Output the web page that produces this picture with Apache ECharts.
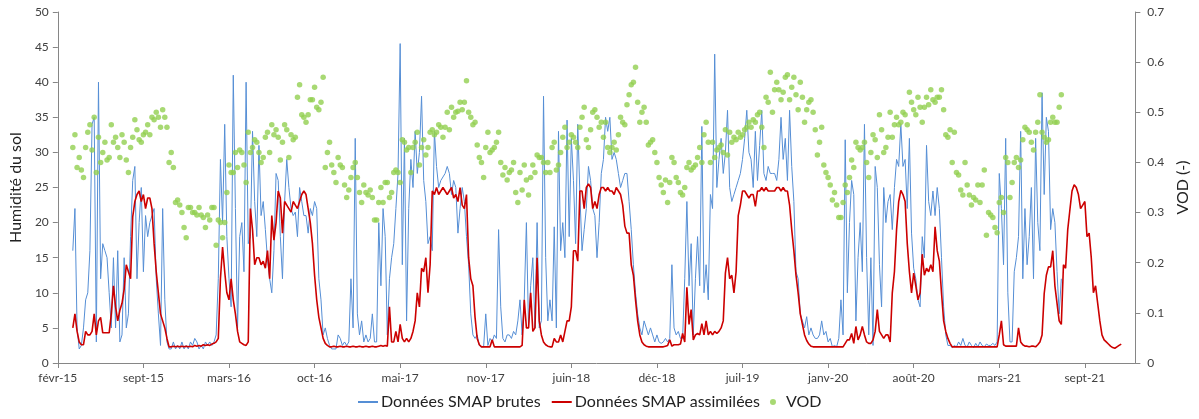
<!DOCTYPE html>
<html>
<head>
<meta charset="utf-8">
<script src="https://cdn.jsdelivr.net/npm/echarts@6/dist/echarts.min.js"></script>
<style>
html, body { margin: 0; padding: 0; background: #fff; }
#chart { width: 1199px; height: 419px; }
</style>
</head>
<body>
<div id="chart"></div>
<script>
// x = days since 22 Feb 2015 (axis origin); series sampled every 5 days from day 35
const firstDay = 35
const stepDays = 5
const tickStep = 200
const axisEnd = 2518

const xLabels = ['févr-15', 'sept-15', 'mars-16', 'oct-16', 'mai-17', 'nov-17', 'juin-18',
    'déc-18', 'juil-19', 'janv-20', 'août-20', 'mars-21', 'sept-21']

// Données SMAP brutes (humidité du sol)
const brutes = [
    16,22,5,2,2.5,5,9,10,16,34,
    35,3,40,12,17,16,15,10,5,15,
    5,16,3,4,15,5,7,18,26,28,
    12,20,25,13,21,18,20,21,22,12,
    7,2.5,22,9,3,2,2,3,2,2.5,
    2,3,2,2.5,2,3,2.5,3.5,3,2,
    2.5,2,3,2.5,3,2.5,3,4,12,29,
    20,34,18,12,8,41,22,5,18,20,
    13,40,17,18,33,23,18,31,21,23,
    19,14.7,12,10,16,27,26,18,12,23,
    29,25,22,21,21.5,18,25,23,21,21,
    18.5,22,21,23,22,12,9,4,5,3.5,
    2.5,2,2,2,4,3.5,2.5,3,2.5,3,
    12,5,32,7,4,6,3,4,3,3.5,
    7,3,3,20,11,22,18,4,12,15,
    17,22,27,45.5,14,32,6,22,29,25,
    33,27,30,38,26,23,17,18,16,33,
    28,25,26,26.5,27,28,27,24,26,25,
    18.5,22,25,23,18,14,7,4,3.5,4,
    2.5,2.3,2.3,7,2.5,3.5,3,4,3.5,19,
    8,3.5,3,4,4,3.5,4.5,4,6,9,
    4,9,20,5,11,15,5,20,5,6,
    38,15,6,9,6,19.4,5,33,16,20,
    15,34.6,18,32,26,17,34,24,16,19,
    22,28,26,22,21,15,20,27,29,35,
    33,35,29,30,29,27,25,26,27,27,
    23,19,14,10,7,5,4,6,5,4,
    5,4,3,4,3,2.8,3,3.5,3,3.5,
    14,5,4,4.5,3.5,3.5,12,23,11,17,
    4,12,18,11,33.7,10,14,9,24,22,
    44,25,29,32,27,30,36,25,23,24,
    25,26,27,29,32,36,30,29,25,33,
    26,31,36,27,26,28,27,27,27,26,
    29,35,29,32,26,36,28,23,13,12,
    7,6,5,6.6,4,5,4,3.5,3.5,4,
    6,4,4.5,3,3.5,2.3,2.5,2.3,3.5,9,
    4,31.8,10,20,26,24,6,15,20,13,
    34,15,4,15,2.5,28,25,14,8,25,
    20,23,24,19,25,29,28,34,28,29,
    22,32,18.5,13.5,12,9,8,18,15,31,
    23,21,24.5,21,25,22,15,8,4,2.5,
    2.5,2.2,2.5,2.3,3,2.5,3.5,2.5,2.3,3,
    2.5,2.2,2.8,2.3,3,2.5,2.3,2.7,2.5,2.5,
    2.8,2.5,3,27,22,14,32,10,3,3,
    13,15,18,33,12,22,14,18,25,12,
    32,20,16,38.5,24,35,33,19,22,20,
    13,7,12
]

// Données SMAP assimilées
const assimilees = [
    5,7,4.5,3,2.6,2.6,4.5,4,4,4.5,
    7,4,6,6.5,4.3,4.3,4.3,4.3,7,11,
    8,6,7.5,8.5,10.5,14,13,12,20.8,23,
    24,24.5,23,24,22,23.5,23.5,22,17,13,
    10,7,6,5,3.5,2.3,2.3,2.4,2.3,2.4,
    2.3,2.4,2.3,2.4,2.3,2.4,2.3,2.5,2.4,2.5,
    2.4,2.6,2.5,2.6,2.5,2.7,2.8,3,3.5,12,
    16.5,13,10,9,12,9,7,4.5,3,2.8,
    2.6,2.5,3,22,19,14,15,15,14,14.5,
    13.5,16,12,21,17.5,20,24.5,23.5,18.5,23,
    22.5,22,21.5,23,22.5,22,23,24,24.5,24,
    22,20,17,12.5,9,6.5,5,3.5,2.8,2.5,
    2.3,2.3,2.4,2.3,2.3,2.4,2.3,2.3,2.4,2.3,
    2.3,2.4,2.3,2.3,2.4,2.3,2.3,2.4,2.3,2.3,
    2.4,2.3,2.3,2.4,2.5,2.4,2.5,2.4,8,3,
    3,4.5,3,5.5,3.5,3,3.5,3,3.5,4.5,
    6,10,8,13.5,13,15,10,14,24.5,24,
    25,24,24.5,25,24.5,24,24.5,25,23.5,24,
    23,25,22.5,22,24,15,12,11,6.5,3.5,
    2.6,2.3,2.3,2.3,2.3,2.3,3.3,2.3,2.3,2.3,
    2.3,2.3,2.3,2.3,2.3,2.3,2.3,2.3,2.3,2.3,
    2.5,9,5,5,10,4.5,5,15,6,4,
    3,2.6,2.4,2.3,2.3,3.5,3,3,4,3,
    4.5,6,6,8,16,16,14.5,24.5,24.5,22,
    25,25.5,25,22,23,22,24,25,25,24.5,
    25,24.5,24.5,24,25,24.5,24,22.5,19.5,18.5,
    18.5,14,12.5,9,6,4,3,2.6,2.4,2.3,
    2.3,2.3,2.3,2.3,2.3,2.3,2.3,2.4,2.5,3.3,
    2.4,2.6,2.6,2.6,2.7,4.2,3,10.8,5.5,7.6,
    3.3,4,4.2,4,5.6,4,6,4,4.5,4,
    4.5,4.2,4.5,5,6,12.8,15,12,12.5,10,
    13,21,22.5,24.5,24.5,24,23.5,24,24,22.3,
    24.5,24.5,25,24.5,25,24.5,24.5,24.5,24.5,25,
    25,24.5,25,24.5,24.5,22.5,19,16,12.5,10,
    7,5.5,4,3.2,2.7,2.4,2.3,2.3,2.3,2.3,
    2.3,2.3,2.3,2.3,2.3,2.3,2.3,2.3,2.3,2.3,
    2.3,2.8,3.3,3.3,4.2,2.8,5.2,3.3,4,5.2,
    4,3,2.8,2.8,3.3,4.5,7.6,4.5,4,3.5,
    4,4,3,10,13,19,23,24.6,24,23,
    17,13,10,12.8,11,9,10,15.5,12.5,13.5,
    13,14,13,19.4,16,14.5,10,6,4.5,3.5,
    2.8,2.3,2.3,2.3,2.3,2.3,2.3,2.3,2.3,2.3,
    2.3,2.3,2.3,2.3,2.3,2.3,2.3,2.3,2.3,2.3,
    2.3,2.3,2.3,4,6,2.6,2.4,2.4,2.4,2.4,
    2.4,2.4,5,3,2.6,2.4,2.4,2.3,2.4,2.4,
    2.3,2.6,3,4,9.9,12.5,13.7,13.7,16,11,
    8.5,6,5.5,14,13.5,19,21.8,24.5,25.4,25,
    24,22,22.5,23,18,18.5,15,10,11,8.5,
    6,4,3.3,3,2.7,2.4,2.2,2.1,2.3,2.5,
    2.7
]

// VOD (axe secondaire)
const vod = [
    .43,.455,.39,.41,.385,.37,.43,.46,.475,.425,
    .49,.38,.45,.40,.42,.44,.405,.41,.475,.44,
    .45,.43,.41,.455,.44,.405,.38,.43,.45,.485,
    .465,.445,.44,.455,.46,.475,.455,.49,.485,.50,
    .49,.47,.505,.49,.47,.40,.42,.39,.32,.325,
    .315,.30,.27,.25,.31,.31,.30,.30,.295,.31,
    .295,.29,.27,.295,.285,.31,.31,.235,.285,.28,
    .25,.28,.34,.395,.38,.38,.42,.39,.425,.42,
    .395,.36,.46,.42,.43,.445,.44,.42,.40,.41,
    .45,.46,.42,.475,.455,.465,.45,.405,.44,.475,
    .465,.41,.455,.445,.45,.53,.555,.495,.49,.48,
    .495,.525,.525,.55,.51,.505,.52,.57,.39,.42,
    .44,.395,.38,.36,.41,.395,.39,.355,.33,.345,
    .37,.39,.40,.37,.34,.32,.355,.34,.335,.345,
    .33,.285,.285,.32,.35,.32,.36,.36,.33,.34,
    .38,.385,.38,.36,.445,.44,.425,.43,.38,.43,
    .44,.46,.395,.43,.445,.415,.43,.46,.465,.455,
    .46,.475,.47,.45,.47,.50,.465,.51,.49,.50,
    .502,.52,.505,.52,.563,.50,.49,.475,.48,.435,
    .41,.40,.37,.43,.46,.42,.425,.43,.44,.46,
    .40,.375,.39,.365,.38,.385,.40,.34,.32,.38,
    .345,.395,.365,.335,.37,.395,.38,.415,.41,.41,
    .40,.38,.40,.38,.43,.44,.385,.395,.42,.45,
    .47,.43,.44,.455,.45,.44,.43,.47,.49,.51,
    .445,.43,.465,.50,.505,.49,.47,.48,.45,.48,
    .43,.42,.43,.44,.425,.455,.49,.48,.475,.515,
    .535,.555,.56,.59,.52,.48,.50,.51,.48,.435,
    .44,.445,.42,.40,.37,.355,.34,.365,.32,.36,
    .41,.40,.37,.36,.34,.335,.35,.39,.40,.385,
    .39,.395,.41,.43,.40,.455,.48,.44,.40,.44,
    .41,.425,.43,.435,.42,.465,.415,.46,.44,.45,
    .445,.46,.45,.455,.465,.47,.48,.47,.485,.48,
    .495,.50,.47,.43,.53,.52,.58,.50,.545,.56,
    .545,.525,.54,.57,.575,.525,.55,.57,.535,.505,
    .56,.53,.48,.505,.52,.525,.50,.465,.415,.44,
    .47,.395,.38,.37,.355,.325,.34,.315,.29,.29,
    .32,.355,.34,.37,.405,.39,.44,.43,.425,.43,
    .44,.40,.37,.42,.455,.445,.41,.495,.465,.42,
    .43,.45,.50,.45,.475,.49,.475,.48,.50,.495,
    .475,.54,.52,.505,.495,.53,.51,.48,.51,.53,
    .515,.545,.525,.52,.53,.53,.545,.505,.455,.45,
    .465,.40,.46,.38,.375,.345,.335,.40,.355,.335,
    .315,.33,.325,.355,.32,.355,.385,.255,.30,.295,
    .29,.27,.26,.32,.33,.30,.41,.40,.33,.36,
    .40,.41,.39,.405,.445,.47,.465,.46,.44,.425,
    .46,.48,.535,.46,.45,.44,.445,.48,.49,.48,
    .48,.51,.535
]

const toPoints = arr => arr.map((v, i) => [firstDay + i * stepDays, v])
const tickValues = xLabels.map((_, i) => i * tickStep)

const axisColor = '#868686'
const textColor = '#404040'
const fontFamily = 'Lato, "Noto Sans", sans-serif'

const chart = echarts.init(document.getElementById('chart'))
chart.setOption({
    animation: false,
    textStyle: { fontFamily: fontFamily },
    grid: { left: 53, right: 62, top: 12, bottom: 56 },
    legend: {
        left: 352,
        bottom: 4,
        itemGap: 10,
        itemWidth: 20,
        itemHeight: 6,
        textStyle: { fontSize: 16, color: '#222', fontFamily: fontFamily, padding: [0, 0, 0, -2] },
        data: [
            // hide the marker circle ECharts puts on line legend icons
            { name: 'Données SMAP brutes', itemStyle: { opacity: 0 } },
            { name: 'Données SMAP assimilées', itemStyle: { opacity: 0 } },
            { name: 'VOD' }
        ]
    },
    xAxis: {
        type: 'value',
        min: 0,
        max: axisEnd,
        splitLine: { show: false },
        axisLine: { lineStyle: { color: axisColor } },
        axisTick: { customValues: tickValues, length: 5, lineStyle: { color: axisColor } },
        axisLabel: {
            customValues: tickValues,
            formatter: v => xLabels[Math.round(v / tickStep)],
            color: textColor,
            fontSize: 12,
            margin: 9
        }
    },
    yAxis: [
        {
            type: 'value',
            min: 0,
            max: 50,
            interval: 5,
            name: 'Humidité du sol',
            nameLocation: 'middle',
            nameGap: 28,
            nameTextStyle: { fontSize: 16, color: '#222' },
            splitLine: { show: false },
            axisLine: { show: true, lineStyle: { color: axisColor } },
            axisTick: { show: true, length: 5, lineStyle: { color: axisColor } },
            axisLabel: { color: textColor, fontSize: 12, margin: 9 }
        },
        {
            type: 'value',
            min: 0,
            max: 0.7,
            interval: 0.1,
            position: 'right',
            name: 'VOD (-)',
            nameLocation: 'middle',
            nameGap: 36,
            nameTextStyle: { fontSize: 16, color: '#222' },
            splitLine: { show: false },
            axisLine: { show: true, lineStyle: { color: axisColor } },
            axisTick: { show: true, length: 5, lineStyle: { color: axisColor } },
            axisLabel: { color: textColor, fontSize: 12, margin: 12 }
        }
    ],
    series: [
        {
            name: 'Données SMAP brutes',
            type: 'line',
            yAxisIndex: 0,
            symbol: 'none',
            color: '#558ED5',
            lineStyle: { width: 1, color: '#558ED5' },
            data: toPoints(brutes),
            z: 2
        },
        {
            name: 'Données SMAP assimilées',
            type: 'line',
            yAxisIndex: 0,
            symbol: 'none',
            color: '#CC0000',
            lineStyle: { width: 1.6, color: '#CC0000' },
            data: toPoints(assimilees),
            z: 3
        },
        {
            name: 'VOD',
            type: 'scatter',
            yAxisIndex: 1,
            symbolSize: 5.5,
            itemStyle: { color: '#92D050' },
            data: toPoints(vod),
            z: 4
        }
    ]
})
</script>
</body>
</html>
